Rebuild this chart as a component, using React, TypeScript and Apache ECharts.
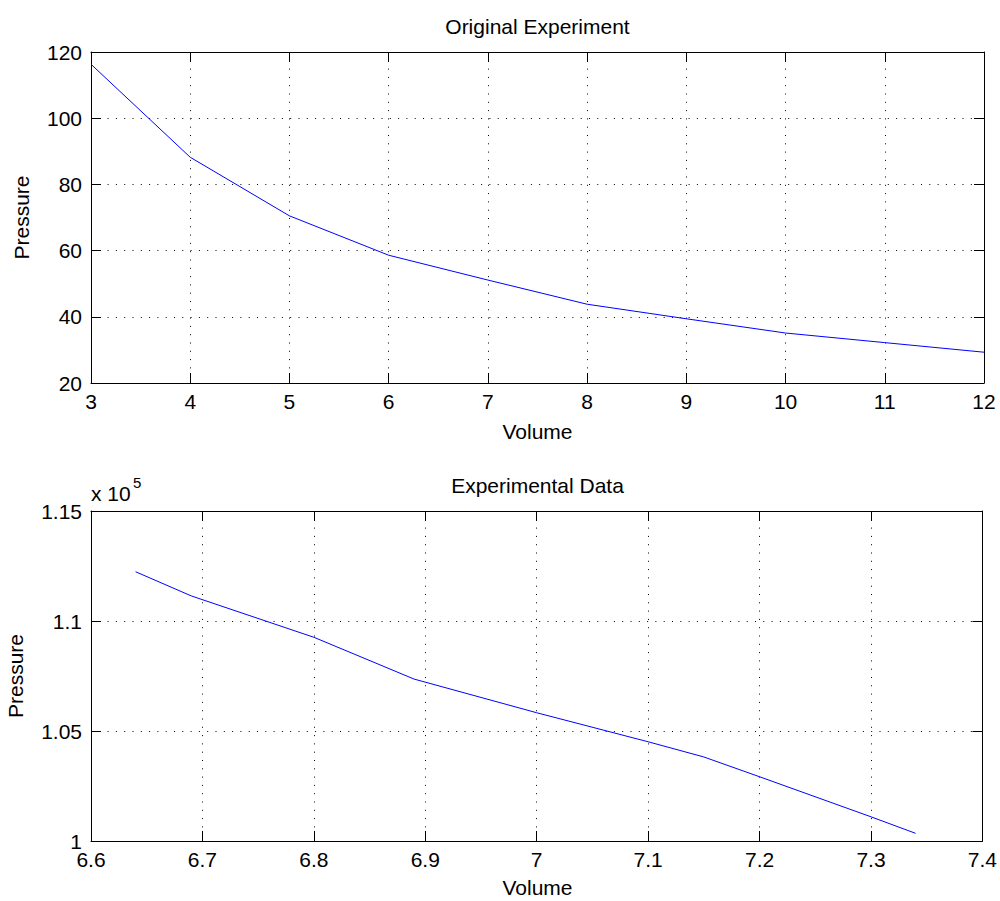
import React, { useEffect, useRef } from "react";
import * as echarts from "echarts";

// Top subplot: Original Experiment
const topVolume = [3, 4, 5, 6, 7, 8, 9, 10, 11, 12];
const topPressure = [116.3, 88.2, 70.5, 58.6, 51.1, 43.8, 39.4, 35.1, 32.2, 29.3];

// Bottom subplot: Experimental Data
const expVolume = [6.64, 6.69, 6.8, 6.89, 7.0, 7.1, 7.15, 7.2, 7.3, 7.34];
const expPressure = [112240, 111140, 109260, 107360, 105830, 104510, 103820, 102920, 101100, 100350];

const FONT = "'Liberation Sans', Arial, Helvetica, sans-serif";

const axisLineStyle = { color: "#000", width: 1 };
const dotted = { color: "#000", width: 1, type: [1, 7.3] as number[] };

function mkX(grid: number, min: number, max: number, interval: number, pos: "bottom" | "top", labels: boolean, fmt?: (v: number) => string) {
  return {
    gridIndex: grid,
    type: "value",
    position: pos,
    min,
    max,
    interval,
    axisLine: { show: true, onZero: false, lineStyle: axisLineStyle },
    axisTick: { show: true, inside: true, length: 10, lineStyle: axisLineStyle },
    axisLabel: { show: labels, color: "#000", fontSize: 21, margin: 8, fontFamily: FONT, formatter: fmt },
    splitLine: { show: labels, lineStyle: dotted },
  };
}

function mkY(grid: number, min: number, max: number, interval: number, pos: "left" | "right", labels: boolean, fmt?: (v: number) => string) {
  return {
    gridIndex: grid,
    type: "value",
    position: pos,
    min,
    max,
    interval,
    axisLine: { show: true, onZero: false, lineStyle: axisLineStyle },
    axisTick: { show: true, inside: true, length: 10, lineStyle: axisLineStyle },
    axisLabel: { show: labels, color: "#000", fontSize: 21, margin: 9, fontFamily: FONT, formatter: fmt },
    splitLine: { show: labels, lineStyle: dotted },
  };
}

export default function App() {
  const ref = useRef<HTMLDivElement>(null);
  useEffect(() => {
    if (!ref.current) return;
    const chart = echarts.init(ref.current, undefined, { renderer: "svg" });
    const fmtX2 = (v: number) => String(parseFloat(v.toFixed(1)));
    const fmtY2 = (v: number) => String(parseFloat((v / 1e5).toFixed(2)));
    const txt = (text: string, x: number, y: number, extra: any = {}) => ({
      type: "text",
      x,
      y,
      rotation: extra.rotation || 0,
      style: {
        text,
        fill: "#000",
        fontSize: extra.fontSize || 21,
        fontFamily: FONT,
        align: extra.align || "center",
        verticalAlign: "middle",
      },
    });
    chart.setOption({
      animation: false,
      backgroundColor: "#fff",
      textStyle: { fontFamily: FONT },
      grid: [
        { left: 91, top: 52, width: 893, height: 331 },
        { left: 91, top: 511, width: 893, height: 330 },
      ],
      xAxis: [
        mkX(0, 3, 12, 1, "bottom", true),
        mkX(0, 3, 12, 1, "top", false),
        mkX(1, 6.6, 7.4, 0.1, "bottom", true, fmtX2),
        mkX(1, 6.6, 7.4, 0.1, "top", false),
      ],
      yAxis: [
        mkY(0, 20, 120, 20, "left", true),
        mkY(0, 20, 120, 20, "right", false),
        mkY(1, 100000, 115000, 5000, "left", true, fmtY2),
        mkY(1, 100000, 115000, 5000, "right", false),
      ],
      series: [
        {
          type: "line",
          xAxisIndex: 0,
          yAxisIndex: 0,
          data: topVolume.map((v, i) => [v, topPressure[i]]),
          showSymbol: false,
          lineStyle: { color: "#0000ff", width: 1 },
        },
        {
          type: "line",
          xAxisIndex: 2,
          yAxisIndex: 2,
          data: expVolume.map((v, i) => [v, expPressure[i]]),
          showSymbol: false,
          lineStyle: { color: "#0000ff", width: 1 },
        },
      ],
      graphic: [
        txt("Original Experiment", 537.5, 26),
        txt("Volume", 537.5, 431),
        txt("Pressure", 21, 217.5, { rotation: Math.PI / 2 }),
        txt("Experimental Data", 537.5, 485),
        txt("Volume", 537.5, 887),
        txt("Pressure", 15, 676, { rotation: Math.PI / 2 }),
        txt("x 10", 91, 493.5, { align: "left" }),
        txt("5", 133, 482, { align: "left", fontSize: 15 }),
      ],
    });
    return () => chart.dispose();
  }, []);
  return (
    <div
      ref={ref}
      style={{ position: "fixed", left: 0, top: 0, width: 1000, height: 901, background: "#fff" }}
    />
  );
}
